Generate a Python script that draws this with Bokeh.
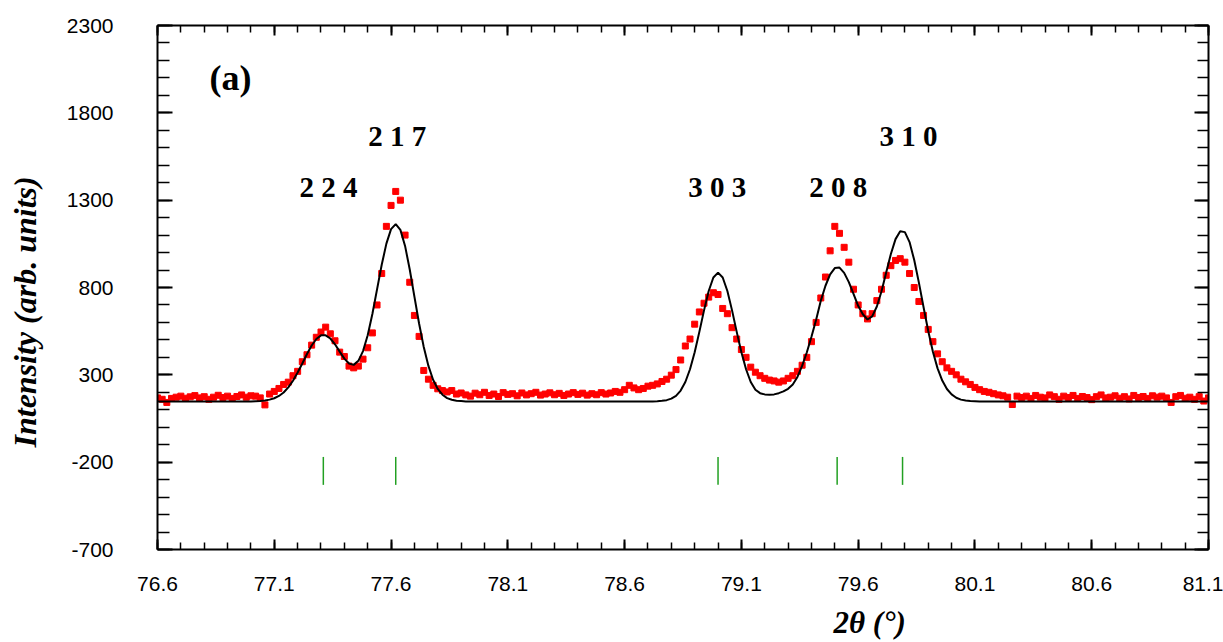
import numpy as np
from bokeh.plotting import figure
from bokeh.models import (Range1d, LinearAxis, FixedTicker, CustomJSTickFormatter,
                          Label, ColumnDataSource, Title)
from bokeh.core.properties import value
from bokeh.embed import file_html
from bokeh.resources import INLINE

# ---------------- data ----------------
x_start = 76.60
x_step = 0.02

# observed intensity (red points), one value every 0.02 deg from 76.60 to 81.10
obs_intensity = [
    168, 160, 142, 165, 172, 178, 166, 174, 181, 168,   # 76.60
    175, 160, 172, 183, 170, 178, 165, 176, 185, 172,   # 76.80
    180, 178, 168, 128, 190, 205, 222, 245, 258, 295,   # 77.00
    320, 375, 415, 470, 515, 545, 573, 535, 495, 430,   # 77.20
    405, 350, 340, 350, 390, 455, 540, 700, 880, 1150,  # 77.40
    1270, 1350, 1300, 1100, 830, 640, 520, 325, 275, 240,  # 77.60
    220, 210, 202, 210, 190, 196, 185, 178, 195, 186,   # 77.80
    200, 182, 190, 176, 198, 188, 192, 180, 196, 185,   # 78.00
    192, 200, 184, 190, 197, 186, 194, 182, 190, 198,   # 78.20
    188, 195, 184, 192, 186, 198, 190, 196, 205, 200,   # 78.40
    215, 240, 225, 215, 222, 235, 240, 248, 262, 275,   # 78.60
    298, 330, 385, 465, 505, 590, 660, 710, 745, 770,   # 78.80
    760, 680, 650, 570, 505, 445, 400, 344, 315, 295,   # 79.00
    280, 270, 265, 258, 265, 280, 295, 320, 355, 400,   # 79.20
    490, 600, 740, 860, 1010, 1150, 1110, 1030, 945, 790,  # 79.40
    700, 650, 620, 650, 725, 790, 870, 925, 955, 965,   # 79.60
    945, 880, 800, 720, 640, 560, 490, 420, 375, 340,   # 79.80
    320, 300, 275, 260, 245, 228, 215, 205, 200, 192,   # 80.00
    185, 180, 172, 130, 178, 170, 178, 165, 182, 172,   # 80.20
    168, 185, 175, 160, 178, 170, 182, 165, 176, 170,   # 80.40
    158, 175, 185, 168, 172, 180, 166, 175, 162, 182,   # 80.60
    170, 176, 165, 180, 172, 178, 168, 142, 175, 182,   # 80.80
    166, 172, 160, 175, 150, 168,                       # 81.00
]

# calculated profile (black line), same grid
calc_intensity = [
    148, 148, 148, 148, 148, 148, 148, 148, 148, 148,   # 76.60
    148, 148, 148, 148, 148, 148, 148, 148, 148, 148,   # 76.80
    148, 149, 150, 153, 158, 166, 179, 199, 228, 266,   # 77.00
    313, 365, 419, 468, 505, 526, 526, 508, 475, 433,   # 77.20
    393, 365, 357, 380, 436, 527, 648, 789, 930, 1051,  # 77.40
    1134, 1163, 1130, 1038, 903, 748, 594, 459, 351, 272,  # 77.60
    219, 186, 167, 157, 152, 150, 148, 148, 148, 148,   # 77.80
    148, 148, 148, 148, 148, 148, 148, 148, 148, 148,   # 78.00
    148, 148, 148, 148, 148, 148, 148, 148, 148, 148,   # 78.20
    148, 148, 148, 148, 148, 148, 148, 148, 148, 148,   # 78.40
    148, 148, 148, 148, 148, 148, 148, 149, 151, 155,   # 78.60
    164, 180, 210, 259, 332, 429, 546, 669, 780, 857,   # 78.80
    885, 857, 780, 669, 546, 429, 332, 259, 215, 195,   # 79.00
    188, 186, 188, 195, 205, 220, 245, 288, 351, 428,   # 79.20
    518, 615, 724, 810, 875, 911, 914, 884, 831, 764,   # 79.40
    695, 647, 617, 635, 691, 779, 886, 992, 1077, 1122,  # 79.60
    1117, 1060, 957, 828, 687, 551, 432, 337, 267, 219,  # 79.80
    188, 169, 158, 153, 150, 149, 148, 148, 148, 148,   # 80.00
    148, 148, 148, 148, 148, 148, 148, 148, 148, 148,   # 80.20
    148, 148, 148, 148, 148, 148, 148, 148, 148, 148,   # 80.40
    148, 148, 148, 148, 148, 148, 148, 148, 148, 148,   # 80.60
    148, 148, 148, 148, 148, 148, 148, 148, 148, 148,   # 80.80
    148, 148, 148, 148, 148, 148,                       # 81.00
]

bragg_positions = [77.31, 77.62, 79.00, 79.51, 79.79]
hkl_labels = ["2 2 4", "2 1 7", "3 0 3", "2 0 8", "3 1 0"]

x_tick_values = [76.6, 77.1, 77.6, 78.1, 78.6, 79.1, 79.6, 80.1, 80.6, 81.1]
x_tick_labels = ["76.6", "77.1", "77.6", "78.1", "78.6", "79.1", "79.6", "80.1", "80.6", "81.1"]
y_tick_values = [-700, -200, 300, 800, 1300, 1800, 2300]
y_tick_labels = ["-700", "-200", "300", "800", "1300", "1800", "2300"]

two_theta_obs = np.round(x_start + x_step * np.arange(len(obs_intensity)), 2)
two_theta_calc = np.round(x_start + x_step * np.arange(len(calc_intensity)), 2)

x_minor = [round(76.6 + 0.1 * i, 1) for i in range(46)]
y_minor = [-700 + 100 * i for i in range(31)]

# ---------------- figure ----------------
p = figure(width=1223, height=642, output_backend="svg", toolbar_location=None,
           x_range=Range1d(76.6, 81.1), y_range=Range1d(-700, 2300),
           min_border_left=157, min_border_right=15, min_border_top=25,
           min_border_bottom=93)
p.grid.visible = False
p.outline_line_color = None
p.background_fill_color = "white"
p.border_fill_color = "white"

blank = CustomJSTickFormatter(code="return ''")

def style_axis(ax, major_in, minor_in):
    ax.axis_line_width = 2
    ax.axis_line_color = "black"
    ax.major_tick_in = major_in
    ax.major_tick_out = 0
    ax.minor_tick_in = minor_in
    ax.minor_tick_out = 0
    ax.major_tick_line_width = 2
    ax.minor_tick_line_width = 1.5
    ax.major_tick_line_color = "black"
    ax.minor_tick_line_color = "black"

def spacer_axis(ticks, gap):
    # invisible axis used only to reserve room between the tick labels and the title
    return LinearAxis(ticker=FixedTicker(ticks=ticks), formatter=blank,
                      axis_line_color=None, major_tick_line_color=None,
                      minor_tick_line_color=None, major_tick_in=0, major_tick_out=gap,
                      minor_tick_in=0, minor_tick_out=0, major_label_standoff=0,
                      major_label_text_font_size="1px")

bx = p.xaxis[0]
bx.ticker = FixedTicker(ticks=x_tick_values, minor_ticks=x_minor)
bx.major_label_overrides = dict(zip(x_tick_values, x_tick_labels))
bx.major_label_standoff = 27
bx.major_label_text_font = "Liberation Sans"
bx.major_label_text_font_size = "21px"
bx.major_label_text_color = "black"
style_axis(bx, 10, 7)

ly = p.yaxis[0]
ly.ticker = FixedTicker(ticks=y_tick_values, minor_ticks=y_minor)
ly.major_label_overrides = dict(zip(y_tick_values, y_tick_labels))
style_axis(ly, 15, 12)
ly.major_label_standoff = 44
ly.major_label_text_font = "Liberation Sans"
ly.major_label_text_font_size = "21px"
ly.major_label_text_color = "black"

top = LinearAxis(ticker=FixedTicker(ticks=x_tick_values, minor_ticks=x_minor), formatter=blank,
                 major_label_standoff=0, major_label_text_font_size="1px")
style_axis(top, 10, 7)
p.add_layout(top, "above")

right = LinearAxis(ticker=FixedTicker(ticks=y_tick_values, minor_ticks=y_minor), formatter=blank,
                   major_label_standoff=0, major_label_text_font_size="1px")
style_axis(right, 14, 11)
p.add_layout(right, "right")

# spacers + axis titles
p.add_layout(spacer_axis(x_tick_values, 9), "below")
p.add_layout(Title(text="2θ (°)", align="left", offset=676, standoff=0,
                   text_font="Liberation Serif", text_font_style="bold italic",
                   text_font_size="31px", text_color="black"), "below")
p.add_layout(spacer_axis(y_tick_values, 21), "left")
p.add_layout(Title(text="Intensity (arb. units)", align="left", offset=102, standoff=0,
                   text_font="Liberation Serif", text_font_style="bold italic",
                   text_font_size="32px", text_color="black"), "left")

# ---------------- glyphs ----------------
p.scatter(two_theta_obs, obs_intensity, marker="square", size=6,
          fill_color="#ff0000", line_color="#ff0000")
p.line(two_theta_calc, calc_intensity, line_color="black", line_width=2)

p.segment(x0=bragg_positions, y0=[-170] * len(bragg_positions),
          x1=bragg_positions, y1=[-330] * len(bragg_positions),
          line_color="#22a022", line_width=1.5)

label_src = ColumnDataSource(dict(
    x=[77.332, 77.627, 78.997, 79.515, 79.815],
    y=[1373, 1670, 1373, 1373, 1670],
    text=hkl_labels))
p.text(x="x", y="y", text="text", source=label_src, text_font=value("Liberation Serif"),
       text_font_style="bold", text_font_size="29px", text_align="center",
       text_baseline="middle", text_color="black")

p.add_layout(Label(x=76.913, y=1997, text="(a)", text_font="Liberation Serif",
                   text_font_style="bold", text_font_size="36px", text_align="center",
                   text_baseline="middle", text_color="black"))

open("out.html", "w").write(file_html(p, INLINE))
